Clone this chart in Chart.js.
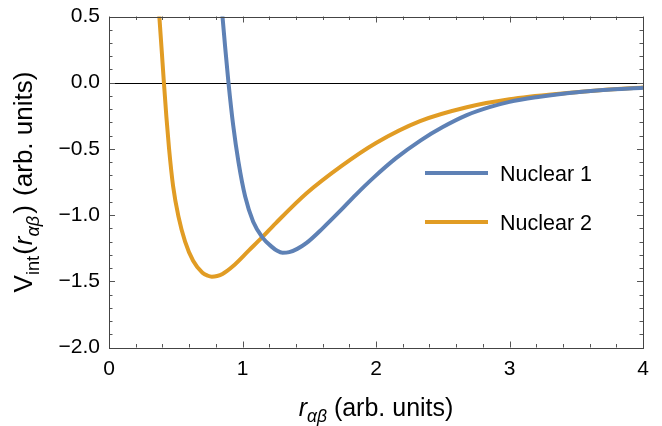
<!DOCTYPE html>
<html>
<head>
<meta charset="utf-8">
<script src="https://cdn.jsdelivr.net/npm/chart.js@4.4.1/dist/chart.umd.min.js"></script>
<style>
  html, body { margin: 0; padding: 0; background: #fff; }
  canvas { display: block; }
</style>
</head>
<body>
<canvas id="potChart" width="662" height="426"></canvas>
<script>
// values
const rNuclear1 = [0.838, 0.85, 0.87, 0.895, 0.93, 0.97, 1.02, 1.08, 1.15, 1.22, 1.26, 1.30, 1.35, 1.41, 1.48, 1.60, 1.735, 1.85, 1.984, 2.15, 2.335, 2.5, 2.68, 2.85, 3.0, 3.2, 3.43, 3.7, 4.0];
const vNuclear1 = [0.62, 0.50, 0.27, 0.0, -0.32, -0.60, -0.86, -1.05, -1.17, -1.24, -1.27, -1.285, -1.28, -1.255, -1.21, -1.10, -0.965, -0.845, -0.715, -0.57, -0.435, -0.335, -0.245, -0.185, -0.145, -0.11, -0.08, -0.055, -0.038];

const rNuclear2 = [0.370, 0.377, 0.395, 0.41, 0.43, 0.45, 0.48, 0.52, 0.57, 0.63, 0.70, 0.74, 0.77, 0.81, 0.85, 0.93, 1.05, 1.15, 1.25, 1.48, 1.74, 2.0, 2.33, 2.68, 3.0, 3.43, 3.7, 4.0];
const vNuclear2 = [0.60, 0.50, 0.24, 0.02, -0.26, -0.50, -0.78, -1.01, -1.20, -1.345, -1.435, -1.458, -1.465, -1.46, -1.445, -1.385, -1.265, -1.165, -1.06, -0.835, -0.63, -0.455, -0.29, -0.185, -0.125, -0.078, -0.055, -0.036];

const seriesLabels = ['Nuclear 1', 'Nuclear 2'];
const xTicks = [0, 1, 2, 3, 4];
const yTicks = [-2.0, -1.5, -1.0, -0.5, 0.0, 0.5];

const FONT = "'Liberation Sans', Arial, sans-serif";
const BLUE = '#5e81b5';
const ORANGE = '#e19c24';

const toPoints = (xs, ys) => xs.map((x, i) => ({ x: x, y: ys[i] }));

// text made of pieces (italic / subscript)
function richWidth(ctx, parts, size) {
  let w = 0;
  parts.forEach(p => {
    const s = p.sub ? size * 0.7 : size;
    ctx.font = (p.italic ? 'italic ' : '') + s + 'px ' + FONT;
    w += ctx.measureText(p.t).width + (p.gap || 0);
  });
  return w;
}

function drawRich(ctx, parts, cx, baseY, size) {
  let x = cx - richWidth(ctx, parts, size) / 2;
  ctx.textAlign = 'left';
  ctx.textBaseline = 'alphabetic';
  ctx.fillStyle = '#000';
  parts.forEach(p => {
    const s = p.sub ? size * 0.7 : size;
    ctx.font = (p.italic ? 'italic ' : '') + s + 'px ' + FONT;
    ctx.fillText(p.t, x, baseY + (p.sub ? size * 0.25 : 0));
    x += ctx.measureText(p.t).width + (p.gap || 0);
  });
}

const framePlugin = {
  id: 'framePlugin',
  beforeDatasetsDraw(chart) {
    const { ctx, chartArea: a, scales: { y } } = chart;
    const y0 = Math.round(y.getPixelForValue(0)) + 0.5;
    ctx.save();
    ctx.strokeStyle = '#000';
    ctx.lineWidth = 1.2;
    ctx.beginPath();
    ctx.moveTo(a.left, y0);
    ctx.lineTo(a.right, y0);
    ctx.stroke();
    ctx.restore();
  },
  afterDraw(chart) {
    const { ctx, chartArea: a, scales: { x, y } } = chart;
    ctx.save();
    ctx.strokeStyle = '#555';
    ctx.lineWidth = 1;

    // inward ticks on all four sides
    ctx.beginPath();
    for (let i = 0; i <= 20; i++) {
      const px = Math.round(x.getPixelForValue(i * 0.2)) + 0.5;
      const len = i % 5 === 0 ? 6 : 3.5;
      ctx.moveTo(px, a.bottom); ctx.lineTo(px, a.bottom - len);
      ctx.moveTo(px, a.top); ctx.lineTo(px, a.top + len);
    }
    for (let i = 0; i <= 25; i++) {
      const py = Math.round(y.getPixelForValue(-2 + i * 0.1)) + 0.5;
      const len = i % 5 === 0 ? 6 : 3.5;
      ctx.moveTo(a.left, py); ctx.lineTo(a.left + len, py);
      ctx.moveTo(a.right, py); ctx.lineTo(a.right - len, py);
    }
    ctx.stroke();

    ctx.strokeStyle = '#444';
    ctx.strokeRect(Math.round(a.left) + 0.5, Math.round(a.top) + 0.5,
      Math.round(a.right - a.left), Math.round(a.bottom - a.top));

    // legend
    const legendY = [173, 222];
    chart.data.datasets.forEach((ds, i) => {
      ctx.strokeStyle = ds.borderColor;
      ctx.lineWidth = 4;
      ctx.beginPath();
      ctx.moveTo(425, legendY[i]);
      ctx.lineTo(488, legendY[i]);
      ctx.stroke();
      ctx.fillStyle = '#000';
      ctx.font = '21.5px ' + FONT;
      ctx.textAlign = 'left';
      ctx.textBaseline = 'middle';
      ctx.fillText(ds.label, 500, legendY[i] + 2);
    });

    // axis titles
    drawRich(ctx, [
      { t: 'r', italic: true },
      { t: '\u03b1\u03b2', italic: true, sub: true },
      { t: ' (arb. units)' }
    ], (a.left + a.right) / 2, 416, 25);

    ctx.save();
    ctx.translate(32, 182);
    ctx.rotate(-Math.PI / 2);
    drawRich(ctx, [
      { t: 'V' },
      { t: 'int', sub: true, gap: 1 },
      { t: '(', gap: 1 },
      { t: 'r', italic: true },
      { t: '\u03b1\u03b2', italic: true, sub: true, gap: 2 },
      { t: ')', gap: 2 },
      { t: ' (arb. units)' }
    ], 0, 0, 26);
    ctx.restore();

    ctx.restore();
  }
};

new Chart('potChart', {
  type: 'line',
  data: {
    datasets: [
      {
        label: seriesLabels[0],
        data: toPoints(rNuclear1, vNuclear1),
        borderColor: BLUE,
        borderWidth: 4,
        pointRadius: 0,
        cubicInterpolationMode: 'monotone',
        clip: 0,
      },
      {
        label: seriesLabels[1],
        data: toPoints(rNuclear2, vNuclear2),
        borderColor: ORANGE,
        borderWidth: 4,
        pointRadius: 0,
        cubicInterpolationMode: 'monotone',
        clip: 0,
      },
    ],
  },
  options: {
    responsive: false,
    animation: false,
    devicePixelRatio: 1,
    layout: { padding: { top: 16.5, right: 19, left: 0, bottom: 0 } },
    plugins: { legend: { display: false }, tooltip: { enabled: false } },
    scales: {
      x: {
        type: 'linear',
        min: 0,
        max: 4,
        grid: { display: false, drawTicks: false },
        border: { display: false },
        afterBuildTicks: s => { s.ticks = xTicks.map(v => ({ value: v })); },
        afterFit: s => { s.height = 78.5; s.paddingLeft = 0; s.paddingRight = 0; },
        ticks: {
          padding: 9,
          color: '#000',
          font: { family: FONT, size: 21 },
          maxRotation: 0,
          callback: v => String(v),
        },
      },
      y: {
        min: -2,
        max: 0.5,
        grid: { display: false, drawTicks: false },
        border: { display: false },
        afterBuildTicks: s => { s.ticks = yTicks.map(v => ({ value: v })); },
        afterFit: s => { s.width = 109; s.paddingTop = 0; s.paddingBottom = 0; },
        ticks: {
          padding: 9,
          color: '#000',
          font: { family: FONT, size: 21 },
          callback: v => (v < 0 ? '\u2212' : '') + Math.abs(v).toFixed(1),
        },
      },
    },
  },
  plugins: [framePlugin],
});
</script>
</body>
</html>
